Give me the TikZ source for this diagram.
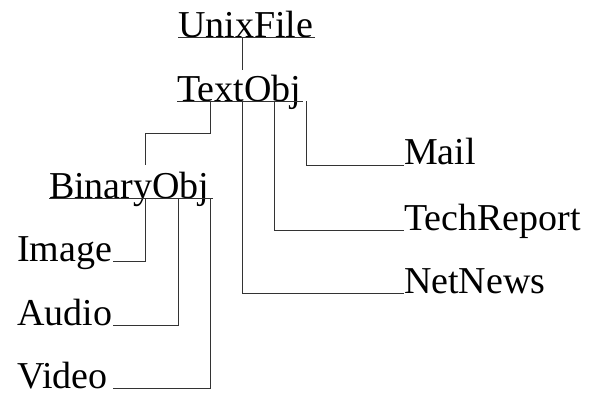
\documentclass[tikz,border=0pt]{standalone}
\usepackage{fontspec}
\setmainfont{Liberation Serif}
\begin{document}
\begin{tikzpicture}[x=1pt,y=-1pt,
  lbl/.style={inner sep=0pt,outer sep=0pt,font=\fontsize{38}{40}\selectfont},
  leftlbl/.style={lbl,text width=96pt,align=left},
  ln/.style={draw=black!80,line width=0.8pt},
  uline/.style={draw=black!80,line width=0.8pt}]
\useasboundingbox (0,0) rectangle (592,393);
% nodes
\node[lbl,anchor=base west] (unix) at (178,37.5) {UnixFile};
\node[lbl,anchor=base west] (textobj) at (177,101.5) {TextObj};
\node[lbl,anchor=base west] (binary) at (49,198.3) {BinaryObj};
\node[lbl,anchor=base west] (mail) at (404,165) {Mail};
\node[lbl,anchor=base west] (tech) at (404,230) {TechReport};
\node[lbl,anchor=base west] (net) at (404,293) {NetNews};
\node[leftlbl,anchor=base west] (image) at (17,261) {Image};
\node[leftlbl,anchor=base west] (audio) at (17,325) {Audio};
\node[leftlbl,anchor=base west] (video) at (17,388.3) {Video};
% underlines
\draw[uline] (unix.base west) -- ([xshift=2pt]unix.base east);
\draw[uline] (textobj.base west) -- ([xshift=2pt]textobj.base east);
\draw[uline] (binary.base west) -- ([xshift=4pt]binary.base east);
% junction points
\coordinate (u1) at (242,37.5);
\coordinate (u1e) at (242,70);
\coordinate (t1) at (210,101.5);
\coordinate (t2) at (242,101.5);
\coordinate (t3) at (274,101.5);
\coordinate (t4) at (306.5,101.5);
\coordinate (bt) at (145,165);
\coordinate (b1) at (145,198.3);
\coordinate (b2) at (178,198.3);
\coordinate (b3) at (210,198.3);
% connectors
\draw[ln] (u1) -- (u1e);
\draw[ln] (t1) |- (145,133) -- (bt);
\draw[ln] (t2) |- (net.base west);
\draw[ln] (t3) |- (tech.base west);
\draw[ln] (t4) |- (mail.base west);
\draw[ln] (b1) |- (image.base east);
\draw[ln] (b2) |- (audio.base east);
\draw[ln] (b3) |- (video.base east);
\end{tikzpicture}
\end{document}
